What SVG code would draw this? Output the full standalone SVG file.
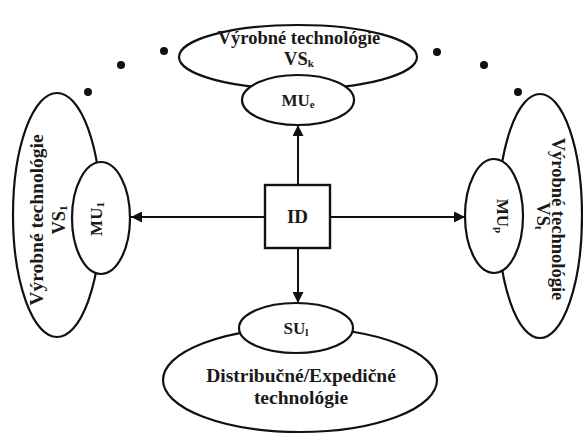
<svg xmlns="http://www.w3.org/2000/svg" width="583" height="434" viewBox="0 0 583 434">
  <style>
    .outer { fill: #fff; stroke: #111; stroke-width: 2.2; }
    .inner { fill: #fff; stroke: #111; stroke-width: 2.2; }
    .box { fill: #fff; stroke: #111; stroke-width: 2.4; }
    .lbl { font-family: "Liberation Serif", "Times New Roman", serif; font-weight: bold; fill: #1a1a1a; text-anchor: middle; }
    .big { font-size: 18.5px; }
    .mid { font-size: 17px; }
    .sub { font-size: 11px; }
    .link { stroke: #111; stroke-width: 2; fill: none; marker-end: url(#arrow); }
    .dot { fill: #111; }
  </style>
  <defs>
    <marker id="arrow" markerWidth="11" markerHeight="11" refX="11" refY="5.5" orient="auto" markerUnits="userSpaceOnUse">
      <path d="M0,0 L11,5.5 L0,11 Z" fill="#111"/>
    </marker>
  </defs>
  <rect width="583" height="434" fill="#fff"/>

  <!-- continuation dots -->
  <g id="dots">
    <circle class="dot" cx="88" cy="92" r="4"/>
    <circle class="dot" cx="121" cy="65" r="4"/>
    <circle class="dot" cx="164" cy="51" r="4"/>
    <circle class="dot" cx="437" cy="52" r="4"/>
    <circle class="dot" cx="484" cy="65" r="4"/>
    <circle class="dot" cx="518" cy="92" r="4"/>
  </g>

  <!-- connectors -->
  <g id="connectors">
    <line class="link" x1="298" y1="185" x2="298" y2="125"/>
    <line class="link" x1="298" y1="248" x2="298" y2="303"/>
    <line class="link" x1="265" y1="217" x2="131" y2="217"/>
    <line class="link" x1="330" y1="217" x2="465" y2="217"/>
  </g>

  <!-- top production unit -->
  <g id="vs-k">
    <ellipse class="outer" cx="298" cy="57" rx="119" ry="32"/>
    <text class="lbl big" x="299" y="44">Výrobné technológie</text>
    <text class="lbl big" x="299" y="65">VS<tspan class="sub" dy="2">k</tspan></text>
  </g>
  <g id="mu-e">
    <ellipse class="inner" cx="298" cy="100" rx="56" ry="25"/>
    <text class="lbl mid" x="298" y="106">MU<tspan class="sub" dy="2">e</tspan></text>
  </g>

  <!-- left production unit -->
  <g id="vs-1">
    <ellipse class="outer" cx="57" cy="215" rx="44" ry="122"/>
    <text class="lbl big" style="font-size:19.5px" transform="translate(43,220) rotate(-90)">Výrobné technológie</text>
    <text class="lbl big" transform="translate(65,220) rotate(-90)">VS<tspan class="sub" dy="2">1</tspan></text>
  </g>
  <g id="mu-1">
    <ellipse class="inner" cx="101" cy="218" rx="29" ry="56"/>
    <text class="lbl mid" transform="translate(102,219) rotate(-90)">MU<tspan class="sub" dy="2">1</tspan></text>
  </g>

  <!-- right production unit -->
  <g id="vs-t">
    <ellipse class="outer" cx="540" cy="216" rx="42" ry="122"/>
    <text class="lbl big" transform="translate(552,219) rotate(90)">Výrobné technológie</text>
    <text class="lbl big" transform="translate(537,216) rotate(90)">VS<tspan class="sub" dy="2">t</tspan></text>
  </g>
  <g id="mu-p">
    <ellipse class="inner" cx="494" cy="216" rx="29" ry="57"/>
    <text class="lbl mid" transform="translate(497,216) rotate(90)">MU<tspan class="sub" dy="2">p</tspan></text>
  </g>

  <!-- bottom distribution unit -->
  <g id="distribution">
    <ellipse class="outer" cx="300" cy="380" rx="137" ry="52"/>
    <text class="lbl big" style="font-size:19.5px" x="301" y="382">Distribučné/Expedičné</text>
    <text class="lbl big" style="font-size:19.5px" x="301" y="404">technológie</text>
  </g>
  <g id="su-l">
    <ellipse class="inner" cx="296" cy="328" rx="57" ry="25"/>
    <text class="lbl mid" x="296" y="334">SU<tspan class="sub" dy="2">l</tspan></text>
  </g>

  <!-- central dispatcher -->
  <g id="id">
    <rect class="box" x="265" y="185" width="65" height="63"/>
    <text class="lbl" x="297.5" y="223" style="font-size:19px">ID</text>
  </g>
</svg>
